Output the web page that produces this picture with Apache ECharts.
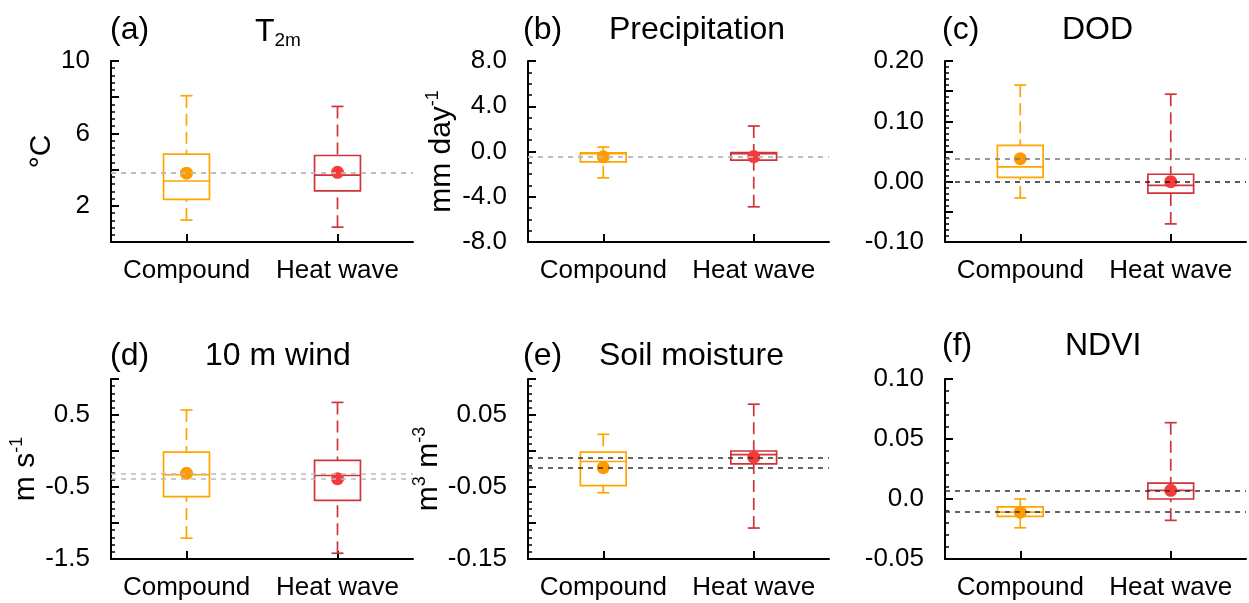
<!DOCTYPE html>
<html>
<head>
<meta charset="utf-8">
<script src="https://cdn.jsdelivr.net/npm/echarts@6/dist/echarts.min.js"></script>
<style>
  html, body { margin: 0; padding: 0; background: #fff; }
  #chart { width: 1249px; height: 603px; }
</style>
</head>
<body>
<div id="chart"></div>
<script>
const groups = ['Compound', 'Heat wave']

// box stats per group: [min, Q1, median, Q3, max]
const boxA = [[1.21, 2.35, 3.37, 4.85, 8.08], [0.82, 2.82, 3.70, 4.78, 7.49]]
const boxB = [[-2.33, -0.91, -0.2, -0.11, 0.39], [-4.89, -0.76, -0.2, -0.1, 2.25]]
const boxC = [[-0.027, 0.007, 0.0245, 0.060, 0.160], [-0.070, -0.019, -0.006, 0.0123, 0.145]]
const boxD = [[-1.21, -0.634, -0.33, -0.017, 0.57], [-1.42, -0.685, -0.34, -0.13, 0.675]]
const boxE = [[-0.058, -0.048, -0.0146, -0.0017, 0.0232], [-0.107, -0.018, -0.005, 0.0, 0.065]]
const boxF = [[-0.024, -0.0144, -0.011, -0.0066, 0.0], [-0.0178, 0.0, 0.0072, 0.0133, 0.0636]]

// group means (dots + dashed lines)
const meanA = [3.8, 3.85]
const meanB = [-0.47, -0.45]
const meanC = [0.038, 0.0]
const meanD = [-0.31, -0.385]
const meanE = [-0.023, -0.0087]
const meanF = [-0.011, 0.0072]

// tick labels shown on each y axis
const ticksA = ['2', '6', '10']
const ticksB = ['8.0', '4.0', '0.0', '-4.0', '-8.0']
const ticksC = ['0.20', '0.10', '0.00', '-0.10']
const ticksD = ['0.5', '-0.5', '-1.5']
const ticksE = ['0.05', '-0.05', '-0.15']
const ticksF = ['0.10', '0.05', '0.0', '-0.05']

const boxColors = ['#FFA500', '#D0343A']
const dotColors = ['#FF9A00', '#F53A3A']
const FONT = 'Liberation Sans, Arial, Helvetica, sans-serif'

const panels = [
  { box: boxA, mean: meanA, ticks: ticksA, min: 0, max: 10, interval: 2, minor: 5, name: '{m|°C}', gap: 51, lineColor: ['#bbb', '#bbb'], left: 111, top: 61, width: 302, height: 181 },
  { box: boxB, mean: meanB, ticks: ticksB, min: -8, max: 8, interval: 4, minor: 4, name: '{m|mm day}{s|-1}', gap: 68, lineColor: ['#bbb', '#bbb'], left: 528, top: 61, width: 301, height: 181 },
  { box: boxC, mean: meanC, ticks: ticksC, min: -0.10, max: 0.20, interval: 0.05, minor: 5, name: '', gap: 60, lineColor: ['#777', '#222'], left: 945, top: 61, width: 301, height: 181 },
  { box: boxD, mean: meanD, ticks: ticksD, min: -1.5, max: 1.0, interval: 0.5, minor: 5, name: '{m|m s}{s|-1}', gap: 67, lineColor: ['#bbb', '#bbb'], left: 111, top: 379, width: 302, height: 180 },
  { box: boxE, mean: meanE, ticks: ticksE, min: -0.15, max: 0.10, interval: 0.05, minor: 5, name: '{m|m}{s|3}{m| m}{s|-3}', gap: 81, lineColor: ['#333', '#333'], left: 528, top: 379, width: 301, height: 180 },
  { box: boxF, mean: meanF, ticks: ticksF, min: -0.05, max: 0.10, interval: 0.05, minor: 5, name: '', gap: 60, lineColor: ['#333', '#333'], left: 945, top: 379, width: 301, height: 180 }
]

const titleTexts = [
  ['(a)', 110, 14], ['{t|T}{s|2m}', 255, 14],
  ['(b)', 523, 14], ['Precipitation', 609, 14],
  ['(c)', 942, 14], ['DOD', 1062, 14],
  ['(d)', 110, 340], ['10 m wind', 205, 340],
  ['(e)', 523, 340], ['Soil moisture', 599, 340],
  ['(f)', 942, 330], ['NDVI', 1065, 330]
]

// 箱线图: 虚线须 + 实线端帽 + 箱体 + 中位数
function renderBox(params, api) {
  const cat = api.value(0)
  const color = boxColors[cat]
  const pMin = api.coord([cat, api.value(1)])
  const pQ1 = api.coord([cat, api.value(2)])
  const pMed = api.coord([cat, api.value(3)])
  const pQ3 = api.coord([cat, api.value(4)])
  const pMax = api.coord([cat, api.value(5)])
  const cx = pMin[0]
  const hw = api.size([1, 0])[0] * 0.152
  const cap = 6
  const solid = { stroke: color, lineWidth: 1.7, fill: null }
  const dashed = { stroke: color, lineWidth: 1.7, lineDash: [12, 6] }
  return {
    type: 'group',
    children: [
      { type: 'line', shape: { x1: cx, y1: pMax[1], x2: cx, y2: pQ3[1] }, style: dashed },
      { type: 'line', shape: { x1: cx, y1: pMin[1], x2: cx, y2: pQ1[1] }, style: dashed },
      { type: 'line', shape: { x1: cx - cap, y1: pMax[1], x2: cx + cap, y2: pMax[1] }, style: solid },
      { type: 'line', shape: { x1: cx - cap, y1: pMin[1], x2: cx + cap, y2: pMin[1] }, style: solid },
      { type: 'rect', shape: { x: cx - hw, y: pQ3[1], width: hw * 2, height: pQ1[1] - pQ3[1] }, style: { stroke: color, lineWidth: 1.7, fill: 'rgba(255,255,255,0)' } },
      { type: 'line', shape: { x1: cx - hw, y1: pMed[1], x2: cx + hw, y2: pMed[1] }, style: solid }
    ]
  }
}

const grid = []
const xAxis = []
const yAxis = []
const series = []

panels.forEach((p, i) => {
  grid.push({ left: p.left, top: p.top, width: p.width, height: p.height, containLabel: false })
  xAxis.push({
    type: 'category',
    gridIndex: i,
    data: groups,
    boundaryGap: true,
    axisLine: { show: true, onZero: false, lineStyle: { color: '#000', width: 2 } },
    axisTick: { show: true, inside: true, alignWithLabel: true, length: 8, lineStyle: { color: '#000', width: 2 } },
    axisLabel: { color: '#000', fontSize: 26, fontFamily: FONT, margin: 16, interval: 0, hideOverlap: false },
    splitLine: { show: false }
  })
  yAxis.push({
    type: 'value',
    gridIndex: i,
    min: p.min,
    max: p.max,
    interval: p.interval,
    name: p.name,
    nameLocation: 'middle',
    nameRotate: 90,
    nameGap: p.gap,
    nameTextStyle: {
      color: '#000',
      fontFamily: FONT,
      rich: {
        m: { fontSize: 30, lineHeight: 36, fontFamily: FONT, color: '#000' },
        s: { fontSize: 18, lineHeight: 18, verticalAlign: 'top', fontFamily: FONT, color: '#000' }
      }
    },
    axisLine: { show: true, onZero: false, lineStyle: { color: '#000', width: 2 } },
    axisTick: { show: true, inside: true, length: 8, lineStyle: { color: '#000', width: 2 } },
    minorTick: { show: true, splitNumber: p.minor, length: 4, lineStyle: { color: '#000', width: 1.5 } },
    axisLabel: {
      color: '#000',
      fontSize: 26,
      fontFamily: FONT,
      margin: 21,
      formatter: v => {
        const t = p.ticks.find(s => Math.abs(parseFloat(s) - v) < 1e-9)
        return t === undefined ? '' : t
      }
    },
    splitLine: { show: false },
    minorSplitLine: { show: false }
  })
  series.push({
    type: 'custom',
    xAxisIndex: i,
    yAxisIndex: i,
    renderItem: renderBox,
    encode: { x: 0, y: [1, 2, 3, 4, 5] },
    data: p.box.map((b, k) => [k].concat(b)),
    z: 2,
    silent: true
  })
  series.push({
    type: 'scatter',
    xAxisIndex: i,
    yAxisIndex: i,
    symbolSize: 13,
    z: 4,
    silent: true,
    data: p.mean.map((m, k) => ({ value: [k, m], itemStyle: { color: dotColors[k], opacity: 1 } })),
    markLine: {
      silent: true,
      precision: 5,
      symbol: ['none', 'none'],
      label: { show: false },
      emphasis: { disabled: true },
      data: p.mean.map((m, k) => ({ yAxis: m, lineStyle: { color: p.lineColor[k], type: [5, 5], width: 1.5, opacity: 1 } }))
    }
  })
})

const chart = echarts.init(document.getElementById('chart'))
chart.setOption({
  animation: false,
  backgroundColor: '#fff',
  title: titleTexts.map(t => ({
    text: t[0],
    left: t[1],
    top: t[2],
    padding: 0,
    textStyle: {
      color: '#000',
      fontSize: 32,
      fontWeight: 'normal',
      fontFamily: FONT,
      rich: {
        t: { fontSize: 32, lineHeight: 36, fontFamily: FONT, color: '#000' },
        s: { fontSize: 19, lineHeight: 19, verticalAlign: 'bottom', fontFamily: FONT, color: '#000' }
      }
    }
  })),
  grid: grid,
  xAxis: xAxis,
  yAxis: yAxis,
  series: series
})
</script>
</body>
</html>
